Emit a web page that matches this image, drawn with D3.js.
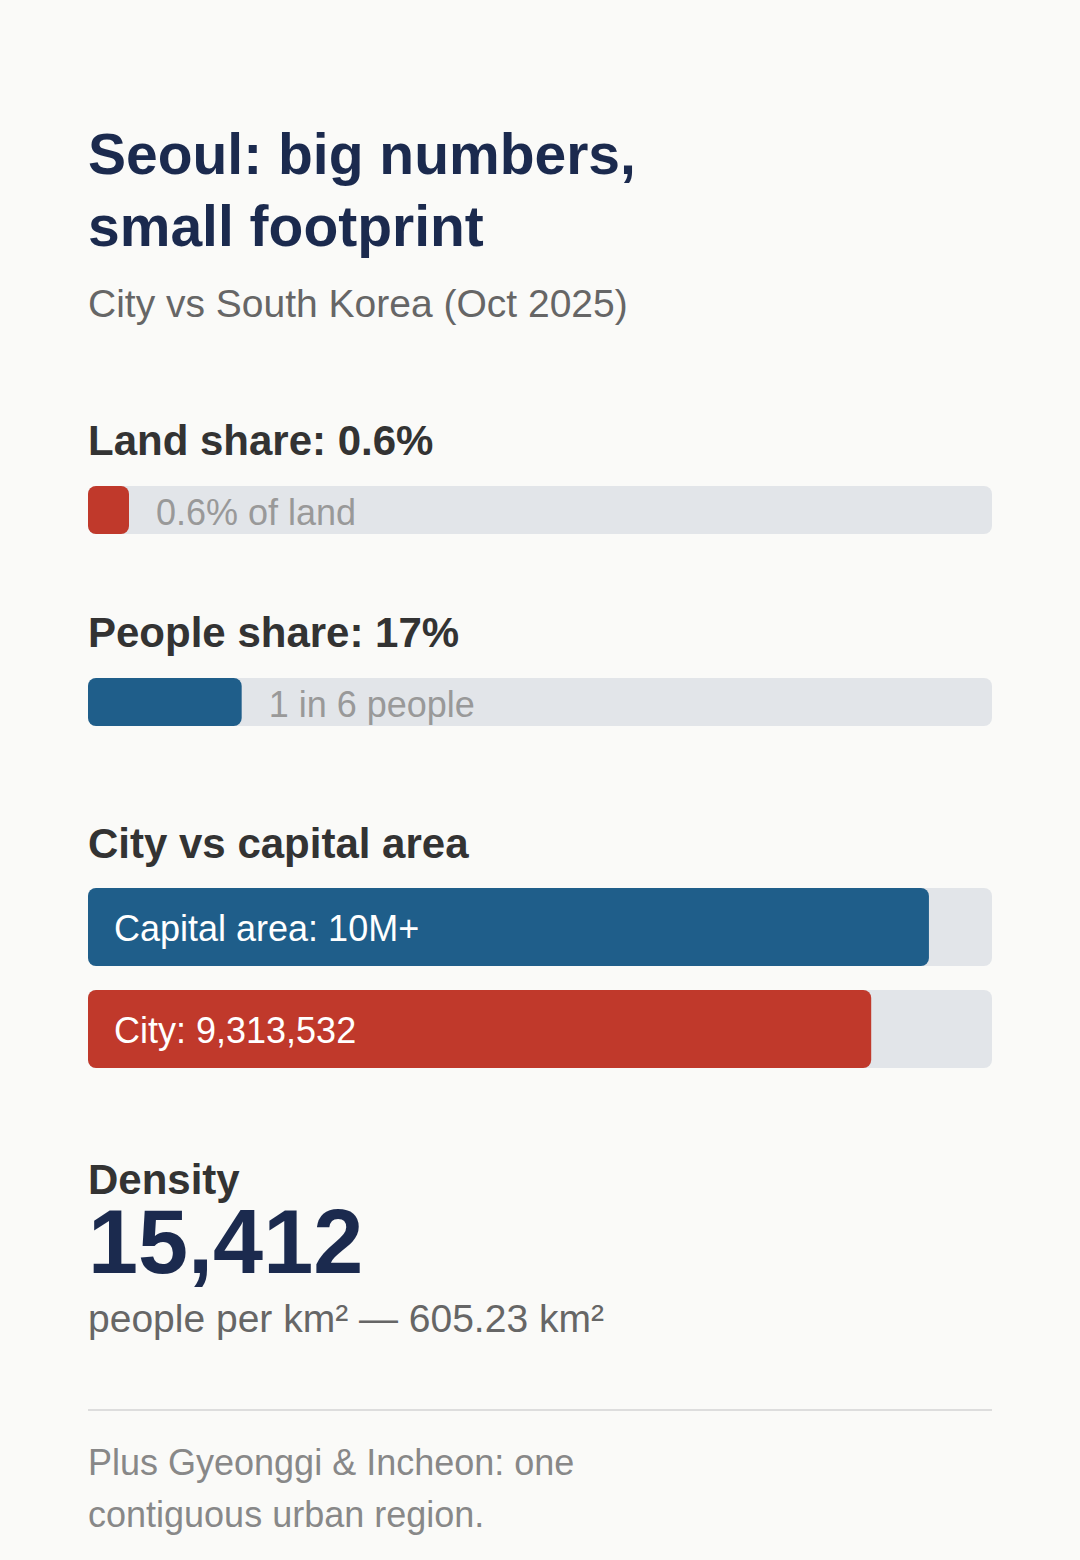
<!DOCTYPE html>
<html lang="en">
<head>
	<meta charset="utf-8">
	<title>Seoul: big numbers, small footprint</title>
	<script type="text/javascript" src="https://d3js.org/d3.v7.min.js"></script>
	<style>
		html, body { margin: 0; padding: 0; background: #fafaf8; }
		svg { display: block; font-family: "Liberation Sans", Arial, sans-serif; }
		.title { fill: #1b2a4e; font-weight: bold; font-size: 57px; }
		.subtitle { fill: #666; font-size: 39px; }
		.section { fill: #333; font-weight: bold; font-size: 42px; }
		.track { fill: #e2e5e9; }
		.note { fill: #999; font-size: 36px; }
		.inlabel { fill: #fff; font-size: 36px; }
		.big { fill: #1b2a4e; font-weight: bold; font-size: 90px; }
		.unit { fill: #666; font-size: 39px; }
		.foot { fill: #888; font-size: 36px; }
	</style>
</head>
<body>
	<div id="chart"></div>
	<script type="text/javascript">
	// title text
	var titleLines = ["Seoul: big numbers,", "small footprint"];
	var subtitle = "City vs South Korea (Oct 2025)";

	// share of the country (percent)
	var shareLabels = ["Land share: 0.6%", "People share: 17%"];
	var shareValues = [0.6, 17];
	var shareNotes = ["0.6% of land", "1 in 6 people"];

	// population, city vs capital area
	var popTitle = "City vs capital area";
	var popCategories = ["Capital area", "City"];
	var popValues = [10000000, 9313532];
	var popLabels = ["Capital area: 10M+", "City: 9,313,532"];

	// density
	var densityValue = 15412;
	var areaValue = 605.23;

	var footLines = ["Plus Gyeonggi & Incheon: one", "contiguous urban region."];

	var w = 1080, h = 1560;
	var left = 88, barW = 904;
	var red = "#c0392b", blue = "#1f5e8a";

	var svg = d3.select("#chart")
		.append("svg")
		.attr("width", w)
		.attr("height", h);

	svg.append("rect").attr("width", w).attr("height", h).attr("fill", "#fafaf8");

	// title + subtitle
	svg.selectAll(".title")
		.data(titleLines)
		.enter()
		.append("text")
		.attr("class", "title")
		.attr("x", left)
		.attr("y", function(d, i) {return 174 + i*72;})
		.text(function(d) {return d;});

	svg.append("text")
		.attr("class", "subtitle")
		.attr("x", left)
		.attr("y", 317)
		.text(subtitle);

	// share bars
	var xShare = d3.scaleLinear().domain([0, 100]).range([0, barW]);
	var shareTop = [486, 678];
	var shareColor = [red, blue];
	var minFill = 41;

	var share = svg.selectAll(".share")
		.data(shareValues)
		.enter()
		.append("g")
		.attr("class", "share")
		.attr("transform", function(d, i) {return "translate(" + left + "," + shareTop[i] + ")";});

	share.append("text")
		.attr("class", "section")
		.attr("y", -31)
		.text(function(d, i) {return shareLabels[i];});

	share.append("rect")
		.attr("class", "track")
		.attr("width", barW)
		.attr("height", 48)
		.attr("rx", 8);

	share.append("rect")
		.attr("width", function(d) {return Math.max(minFill, xShare(d));})
		.attr("height", 48)
		.attr("rx", 8)
		.attr("fill", function(d, i) {return shareColor[i];});

	share.append("text")
		.attr("class", "note")
		.attr("x", function(d) {return Math.max(minFill, xShare(d)) + 27;})
		.attr("y", 39)
		.text(function(d, i) {return shareNotes[i];});

	// capital area vs city
	var xPop = d3.scaleLinear().domain([0, 10750000]).range([0, barW]);
	var yPop = d3.scaleBand().domain(popCategories).range([888, 1068]).paddingInner(0.235);
	var popColor = [blue, red];

	svg.append("text")
		.attr("class", "section")
		.attr("x", left)
		.attr("y", 858)
		.text(popTitle);

	var pop = svg.selectAll(".pop")
		.data(popValues)
		.enter()
		.append("g")
		.attr("class", "pop")
		.attr("transform", function(d, i) {return "translate(" + left + "," + yPop(popCategories[i]) + ")";});

	pop.append("rect")
		.attr("class", "track")
		.attr("width", barW)
		.attr("height", yPop.bandwidth())
		.attr("rx", 8);

	pop.append("rect")
		.attr("width", function(d) {return xPop(d);})
		.attr("height", yPop.bandwidth())
		.attr("rx", 8)
		.attr("fill", function(d, i) {return popColor[i];});

	pop.append("text")
		.attr("class", "inlabel")
		.attr("x", 26)
		.attr("y", yPop.bandwidth()/2 + 14)
		.text(function(d, i) {return popLabels[i];});

	// density
	svg.append("text")
		.attr("class", "section")
		.attr("x", left)
		.attr("y", 1194)
		.text("Density");

	svg.append("text")
		.attr("class", "big")
		.attr("x", left)
		.attr("y", 1273)
		.text(d3.format(",")(densityValue));

	svg.append("text")
		.attr("class", "unit")
		.attr("x", left)
		.attr("y", 1332)
		.text("people per km\u00b2 \u2014 " + areaValue + " km\u00b2");

	// divider + footnote
	svg.append("line")
		.attr("x1", left)
		.attr("x2", left + barW)
		.attr("y1", 1410)
		.attr("y2", 1410)
		.attr("stroke", "#ddd")
		.attr("stroke-width", 2);

	svg.selectAll(".foot")
		.data(footLines)
		.enter()
		.append("text")
		.attr("class", "foot")
		.attr("x", left)
		.attr("y", function(d, i) {return 1475 + i*52;})
		.text(function(d) {return d;});
	</script>
</body>
</html>
